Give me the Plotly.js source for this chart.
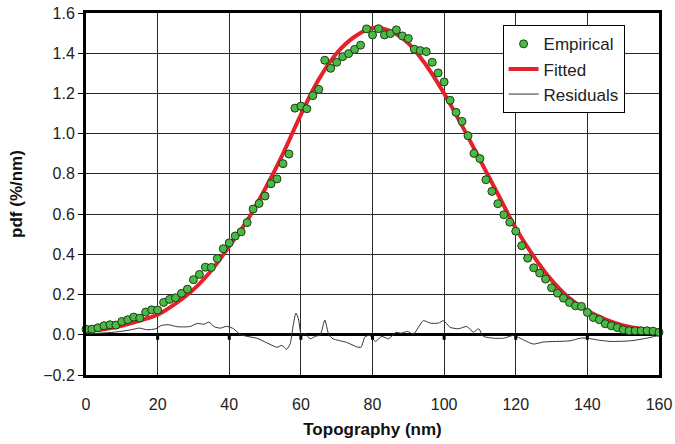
<!DOCTYPE html>
<html>
<head>
<meta charset="utf-8">
<script src="https://cdn.plot.ly/plotly-3.0.1.min.js"></script>
<style>
html,body{margin:0;padding:0;background:#fff;}
#chart{width:675px;height:444px;}
</style>
</head>
<body>
<div id="chart"></div>
<script>
// Empirical pdf points (x in nm, value in %/nm)
var empiricalX = [0,1.67,3.33,5,6.67,8.33,10,11.67,13.33,15,16.67,18.33,20,21.67,23.33,25,26.67,28.33,30,31.67,33.33,35,36.67,38.33,40,41.67,43.33,45,46.67,48.33,50,51.67,53.33,55,56.67,58.33,60,61.67,63.33,65,66.67,68.33,70,71.67,73.33,75,76.67,78.33,80,81.67,83.33,85,86.67,88.33,90,91.67,93.33,95,96.67,98.33,100,101.67,103.33,105,106.67,108.33,110,111.67,113.33,115,116.67,118.33,120,121.67,123.33,125,126.67,128.33,130,131.67,133.33,135,136.67,138.33,140,141.67,143.33,145,146.67,148.33,150,151.67,153.33,155,156.67,158.33,160];
var empiricalY = [0.028,0.028,0.035,0.045,0.050,0.048,0.066,0.075,0.088,0.083,0.113,0.124,0.123,0.161,0.176,0.184,0.206,0.227,0.274,0.300,0.336,0.335,0.379,0.428,0.457,0.491,0.512,0.558,0.625,0.653,0.690,0.751,0.775,0.851,0.899,1.127,1.137,1.124,1.189,1.220,1.365,1.325,1.355,1.383,1.398,1.419,1.440,1.521,1.491,1.522,1.491,1.498,1.516,1.486,1.473,1.420,1.413,1.408,1.355,1.302,1.257,1.166,1.106,1.061,0.990,0.902,0.876,0.771,0.713,0.652,0.597,0.560,0.515,0.443,0.381,0.333,0.307,0.277,0.234,0.207,0.182,0.161,0.144,0.141,0.111,0.086,0.075,0.055,0.045,0.036,0.025,0.020,0.020,0.020,0.020,0.018,0.012];

// Fitted curve
var fittedX = [0,5,10,15,20,25,30,35,40,45,50,55,60,65,70,75,80,85,90,95,100,105,110,115,120,125,130,135,140,145,150,155,160];
var fittedY = [0.020,0.028,0.045,0.070,0.100,0.155,0.225,0.320,0.440,0.568,0.725,0.900,1.095,1.270,1.400,1.482,1.525,1.510,1.450,1.340,1.200,1.040,0.870,0.700,0.530,0.390,0.272,0.182,0.120,0.077,0.047,0.030,0.020];

// Residuals
var residualX = [0,4,8,12,15,17,19.5,21,23,25.5,29,31,33,34.3,35.8,37.5,39.3,41.2,43,45,47.7,50.5,53.3,54.7,56,57,57.8,58.6,59.3,60.2,61.2,62.6,64,65.4,66.7,67.8,69,72.8,75.6,76.8,77.9,79.3,80.8,82.6,84.5,86.5,88,89.8,91.4,94.2,96.1,98.4,99.8,101.7,104,106.3,108.2,109.6,111,113.8,116.6,119.4,121.2,124.9,127.7,131.5,135.2,138,140,142.6,146.4,152,156.6,160];
var residualY = [0.005,0.008,0.013,0.023,0.033,0.025,0.030,0.046,0.050,0.040,0.041,0.056,0.053,0.063,0.040,0.033,0.042,0.030,0.002,-0.008,-0.017,-0.040,-0.062,-0.053,-0.072,-0.045,0.040,0.108,0.080,-0.005,0.005,-0.020,-0.008,0.000,0.073,0.000,-0.020,-0.038,-0.060,-0.062,-0.010,-0.003,-0.033,-0.008,-0.020,0.012,0.008,0.017,0.003,0.070,0.058,0.058,0.070,0.037,0.030,0.041,0.013,0.030,-0.008,-0.017,-0.017,-0.003,-0.017,-0.046,-0.036,-0.033,-0.030,-0.017,-0.017,-0.025,-0.033,-0.030,-0.017,-0.003];

var xTicks = [0,20,40,60,80,100,120,140,160];
var yTicks = [-0.2,0.0,0.2,0.4,0.6,0.8,1.0,1.2,1.4,1.6];

var FONT = '"Liberation Sans", Arial, sans-serif';

var traces = [
  {x: residualX, y: residualY, type: 'scatter', mode: 'lines', name: 'Residuals',
   line: {color: '#333333', width: 1, shape: 'spline', smoothing: 0.6}, legendrank: 3},
  {x: fittedX, y: fittedY, type: 'scatter', mode: 'lines', name: 'Fitted',
   line: {color: '#e3222b', width: 4, shape: 'spline'}, legendrank: 2},
  {x: empiricalX, y: empiricalY, type: 'scatter', mode: 'markers', name: 'Empirical',
   marker: {color: '#4cb846', size: 8, line: {color: '#1c3d16', width: 1}},
   cliponaxis: false, legendrank: 1}
];

var tickShapes = xTicks.filter(function(v){ return v > 0 && v < 160; }).map(function(v){
  return {type: 'line', xref: 'x', yref: 'y', ysizemode: 'pixel', yanchor: 0,
          x0: v, x1: v, y0: 0, y1: -5, line: {color: '#000', width: 3}};
});

var layout = {
  width: 675, height: 444,
  margin: {l: 86, r: 16, t: 13, b: 69},
  paper_bgcolor: '#fff', plot_bgcolor: '#fff',
  font: {family: FONT, size: 16, color: '#222'},
  showlegend: true,
  legend: {x: 0.727, y: 0.966, xanchor: 'left', yanchor: 'top',
           bgcolor: '#fff', bordercolor: '#000', borderwidth: 1,
           font: {family: FONT, size: 17, color: '#222'}, tracegroupgap: 0},
  xaxis: {
    range: [0, 160], tickvals: xTicks, ticktext: xTicks.map(String),
    showgrid: true, gridcolor: '#2a2a2a', gridwidth: 1,
    showline: true, linecolor: '#000', linewidth: 3, mirror: true,
    ticks: '', zeroline: false, ticklabelstandoff: 13,
    title: {text: '<b>Topography (nm)</b>', font: {family: FONT, size: 17, color: '#111'}, standoff: 11}
  },
  yaxis: {
    range: [-0.2, 1.6], tickvals: yTicks, tickformat: '.1f',
    showgrid: true, gridcolor: '#2a2a2a', gridwidth: 1,
    showline: true, linecolor: '#000', linewidth: 3, mirror: true,
    ticks: 'outside', ticklen: 5, tickcolor: '#000', tickwidth: 1,
    zeroline: true, zerolinecolor: '#000', zerolinewidth: 3,
    title: {text: '<b>pdf (%/nm)</b>', font: {family: FONT, size: 17, color: '#111'}, standoff: 17}
  },
  shapes: tickShapes
};

Plotly.newPlot('chart', traces, layout, {displayModeBar: false, staticPlot: true});
</script>
</body>
</html>
